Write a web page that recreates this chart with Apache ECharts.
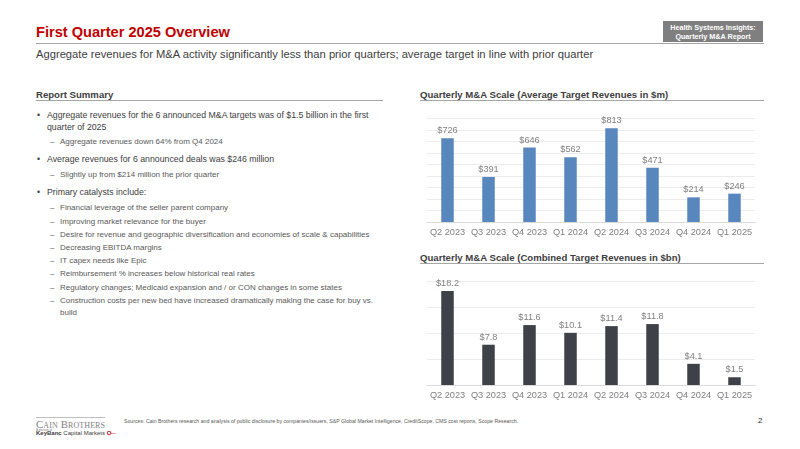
<!DOCTYPE html>
<html>
<head>
<meta charset="utf-8">
<script src="https://cdn.jsdelivr.net/npm/echarts@6/dist/echarts.min.js"></script>
<style>
  html, body { margin: 0; padding: 0; background: #fff; }
  body { width: 800px; height: 449px; position: relative; overflow: hidden;
         font-family: "Liberation Sans", Arial, sans-serif; color: #404040; }
  .abs { position: absolute; white-space: nowrap; }
  .title { left: 36px; top: 24px; font-size: 14.6px; font-weight: bold; color: #c00000; }
  .rule { position: absolute; height: 1px; background: #a6a6a6; }
  .sub { left: 36px; top: 48px; font-size: 11.2px; color: #404040; }
  .badge { left: 663px; top: 21px; width: 100px; height: 21px; background: #7f7f7f; color: #fff;
           font-size: 7.2px; font-weight: bold; text-align: center; line-height: 9px; padding-top: 1.5px; box-sizing: border-box; }
  .head { font-size: 9.6px; font-weight: bold; color: #404040; }
  .b { left: 37px; font-size: 8.75px; color: #404040; line-height: 11.6px; }
  .b span { position: absolute; left: 10px; white-space: nowrap; }
  .s { left: 50px; font-size: 8px; color: #595959; line-height: 12px; }
  .s span { position: absolute; left: 10px; white-space: nowrap; }
  #chart { position: absolute; left: 420px; top: 105px; width: 350px; height: 300px; }
  .foot { left: 124px; top: 418px; font-size: 5.2px; color: #595959; }
  .page { left: 758px; top: 416px; font-size: 8px; color: #262626; }
  .logo { left: 36px; top: 418px; font-family: "Liberation Serif", "Times New Roman", serif; color: #7f7f7f; }
</style>
</head>
<body>
<div class="abs title">First Quarter 2025 Overview</div>
<div class="rule" style="left:36px; top:43px; width:728px;"></div>
<div class="abs badge">Health Systems Insights:<br>Quarterly M&amp;A Report</div>
<div class="abs sub">Aggregate revenues for M&amp;A activity significantly less than prior quarters; average target in line with prior quarter</div>

<div class="abs head" style="left:36px; top:89px;">Report Summary</div>
<div class="rule" style="left:36px; top:100px; width:347px;"></div>
<div class="abs head" style="left:420px; top:89px;">Quarterly M&amp;A Scale (Average Target Revenues in $m)</div>
<div class="rule" style="left:420px; top:100px; width:344px;"></div>
<div class="abs head" style="left:420px; top:252px;">Quarterly M&amp;A Scale (Combined Target Revenues in $bn)</div>
<div class="rule" style="left:420px; top:263px; width:344px;"></div>

<div class="abs b" style="top:110px;">•<span>Aggregate revenues for the 6 announced M&amp;A targets was of $1.5 billion in the first<br>quarter of 2025</span></div>
<div class="abs s" style="top:136px;">–<span>Aggregate revenues down 64% from Q4 2024</span></div>
<div class="abs b" style="top:153.5px;">•<span>Average revenues for 6 announced deals was $246 million</span></div>
<div class="abs s" style="top:169px;">–<span>Slightly up from $214 million the prior quarter</span></div>
<div class="abs b" style="top:187px;">•<span>Primary catalysts include:</span></div>
<div class="abs s" style="top:202px;">–<span>Financial leverage of the seller parent company</span></div>
<div class="abs s" style="top:215.5px;">–<span>Improving market relevance for the buyer</span></div>
<div class="abs s" style="top:228.7px;">–<span>Desire for revenue and geographic diversification and economies of scale &amp; capabilities</span></div>
<div class="abs s" style="top:242px;">–<span>Decreasing EBITDA margins</span></div>
<div class="abs s" style="top:255px;">–<span>IT capex needs like Epic</span></div>
<div class="abs s" style="top:268px;">–<span>Reimbursement % increases below historical real rates</span></div>
<div class="abs s" style="top:281.7px;">–<span>Regulatory changes; Medicaid expansion and / or CON changes in some states</span></div>
<div class="abs s" style="top:295px;">–<span>Construction costs per new bed have increased dramatically making the case for buy vs.<br>build</span></div>

<div id="chart"></div>

<div class="rule" style="left:36px; top:417px; width:69px; background:#bfbfbf;"></div>
<div class="abs logo" style="top:418px; font-size:10.8px; letter-spacing:0.1px;">C<span style="font-size:8px">AIN</span> B<span style="font-size:8px">ROTHERS</span></div>
<div class="abs" style="left:36px; top:427.5px; font-size:3px; color:#7f7f7f;">A division of</div>
<div class="abs" style="left:36px; top:430px; font-size:6px; color:#404040;"><b>KeyBanc</b> Capital Markets <span style="color:#c00000; font-weight:bold;">O&#x2500;</span></div>
<div class="abs foot">Sources: Cain Brothers research and analysis of public disclosure by companies/issuers, S&amp;P Global Market Intelligence, CreditScope, CMS cost reports, Scope Research.</div>
<div class="abs page">2</div>

<script>
  var quarters = ['Q2 2023', 'Q3 2023', 'Q4 2023', 'Q1 2024', 'Q2 2024', 'Q3 2024', 'Q4 2024', 'Q1 2025'];
  var avgRevenue = [726, 391, 646, 562, 813, 471, 214, 246];
  var combinedRevenue = [18.2, 7.8, 11.6, 10.1, 11.4, 11.8, 4.1, 1.5];

  var chart = echarts.init(document.getElementById('chart'));
  var font = '"Liberation Sans", Arial, sans-serif';

  function xAxisFor(idx) {
    return {
      type: 'category',
      gridIndex: idx,
      data: quarters,
      axisLine: { lineStyle: { color: '#d9d9d9' } },
      axisTick: { show: false },
      axisLabel: { color: '#7f7f7f', fontSize: 9.2, fontFamily: font, margin: 6, interval: 0 }
    };
  }
  function yAxisFor(idx, max, step) {
    return {
      type: 'value',
      gridIndex: idx,
      min: 0,
      max: max,
      interval: step,
      axisLabel: { show: false },
      axisLine: { show: false },
      axisTick: { show: false },
      splitLine: { lineStyle: { color: '#ececec' } }
    };
  }

  chart.setOption({
    animation: false,
    grid: [
      { left: 7, top: 13.3, width: 328, height: 103.7 },
      { left: 7, top: 176.7, width: 328, height: 103.3 }
    ],
    xAxis: [xAxisFor(0), xAxisFor(1)],
    yAxis: [yAxisFor(0, 900, 100), yAxisFor(1, 20, 5)],
    series: [
      {
        type: 'bar',
        xAxisIndex: 0,
        yAxisIndex: 0,
        data: avgRevenue,
        barWidth: 12.5,
        itemStyle: { color: '#5887bd' },
        label: {
          show: true, position: 'top', distance: 3,
          color: '#7f7f7f', fontSize: 9.2, fontFamily: font,
          formatter: function (p) { return '$' + p.value; }
        }
      },
      {
        type: 'bar',
        xAxisIndex: 1,
        yAxisIndex: 1,
        data: combinedRevenue,
        barWidth: 12.5,
        itemStyle: { color: '#3e4148' },
        label: {
          show: true, position: 'top', distance: 3,
          color: '#7f7f7f', fontSize: 9.2, fontFamily: font,
          formatter: function (p) { return '$' + p.value.toFixed(1); }
        }
      }
    ]
  });
</script>
</body>
</html>
